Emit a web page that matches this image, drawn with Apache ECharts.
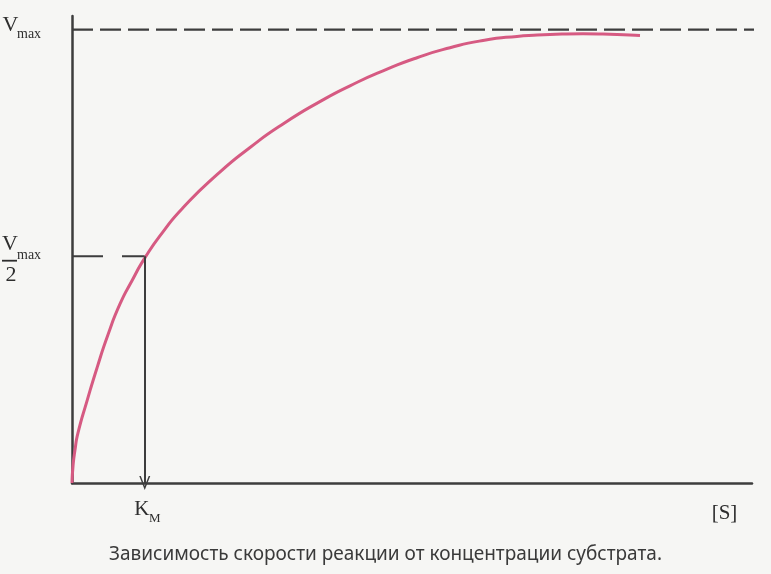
<!DOCTYPE html>
<html>
<head>
<meta charset="utf-8">
<script src="https://cdn.jsdelivr.net/npm/echarts@6/dist/echarts.min.js"></script>
<style>
html,body{margin:0;padding:0;background:#f6f6f4;}
#c{width:771px;height:574px;}
</style>
</head>
<body>
<div id="c"></div>
<script>
// Substrate concentration [S] (arbitrary units) and reaction rate v (fraction of Vmax)
const sValues = [0, 0.15, 0.44, 0.88, 2.21, 3.68, 5.29, 7.06, 8.82, 10.74, 13.38, 16.32, 21.32, 26.18, 31.03, 36.91, 40.88, 45.74, 50.74, 55.59, 60.44, 65.44, 70.29, 75.15, 80.15, 83.53];
const vValues = [0, 0.0375, 0.0728, 0.1104, 0.181, 0.254, 0.327, 0.395, 0.446, 0.497, 0.554, 0.607, 0.680, 0.740, 0.792, 0.845, 0.876, 0.909, 0.938, 0.960, 0.976, 0.985, 0.989, 0.991, 0.989, 0.987];
const vmax = 1;
const km = 10.7;
const sMax = 100;
const vAxisMax = 1.03;
const captionText = 'Зависимость скорости реакции от концентрации субстрата.';

const curve = sValues.map((s, i) => [s, vValues[i]]);
const ink = '#3d3d3d';
const serif = '"Liberation Serif", "DejaVu Serif", serif';

const chart = echarts.init(document.getElementById('c'), null, {renderer: 'canvas'});
const option = {
  backgroundColor: '#f6f6f4',
  animation: false,
  grid: {left: 72, right: 19, top: 16, bottom: 91, containLabel: false},
  xAxis: {
    type: 'value', min: 0, max: sMax,
    axisLine: {show: true, lineStyle: {color: ink, width: 2.5}},
    axisTick: {show: false}, axisLabel: {show: false}, splitLine: {show: false}
  },
  yAxis: {
    type: 'value', min: 0, max: vAxisMax,
    axisLine: {show: true, lineStyle: {color: ink, width: 2.5}},
    axisTick: {show: false}, axisLabel: {show: false}, splitLine: {show: false}
  },
  series: [
    {
      name: 'Vmax', type: 'line', clip: false, symbol: 'none',
      data: [[0, vmax], [sMax + 0.4, vmax]],
      lineStyle: {color: ink, width: 2.2, type: [21, 7]}
    },
    {
      name: 'Vmax/2', type: 'line', clip: false, symbol: 'none',
      data: [[0, vmax / 2], [km, vmax / 2]],
      lineStyle: {color: ink, width: 2, type: [31, 19]},
      markLine: {
        silent: true, animation: false,
        symbol: ['none', 'path://M0,13 L5,0 L10,13 L8.6,13 L5,3.6 L1.4,13 Z'],
        symbolSize: [11, 14],
        label: {show: false},
        lineStyle: {color: ink, width: 2, type: 'solid'},
        data: [[{coord: [km, vmax / 2]}, {coord: [km, 0]}]]
      }
    },
    {
      name: 'v', type: 'line', clip: false, symbol: 'none',
      smooth: 0.6,
      data: curve,
      lineStyle: {color: '#d65a82', width: 3}
    }
  ]
};
chart.setOption(option);

const pV = chart.convertToPixel({gridIndex: 0}, [0, vmax]);
const pH = chart.convertToPixel({gridIndex: 0}, [0, vmax / 2]);
const pK = chart.convertToPixel({gridIndex: 0}, [km, 0]);
const pS = chart.convertToPixel({gridIndex: 0}, [sMax, 0]);

function txt(text, x, y, size, align, family, color) {
  return {type: 'text', style: {text: text, x: x, y: y, fontSize: size, fontFamily: family || serif,
    fill: color || '#2e2e2e', textAlign: align || 'center', textVerticalAlign: 'middle'}};
}

chart.setOption({
  graphic: [
    txt('V', 10.5, pV[1] - 4, 22),
    txt('max', 17, pV[1] + 5, 14, 'left'),
    txt('V', 10, pH[1] - 12, 22),
    txt('max', 17, pH[1] - 1, 14, 'left'),
    {type: 'rect', shape: {x: 2, y: pH[1] + 3.5, width: 15, height: 1.8}, style: {fill: '#2e2e2e'}},
    txt('2', 11, pH[1] + 19, 22),
    txt('K', pK[0] - 3, pK[1] + 26, 21),
    txt('M', pK[0] + 10, pK[1] + 36, 13),
    txt('[S]', pS[0] - 27.5, pS[1] + 30, 21),
    txt(captionText, 385.5, 555, 19, 'center', '"Noto Sans", sans-serif', '#3a3a3a')
  ]
});
</script>
</body>
</html>
